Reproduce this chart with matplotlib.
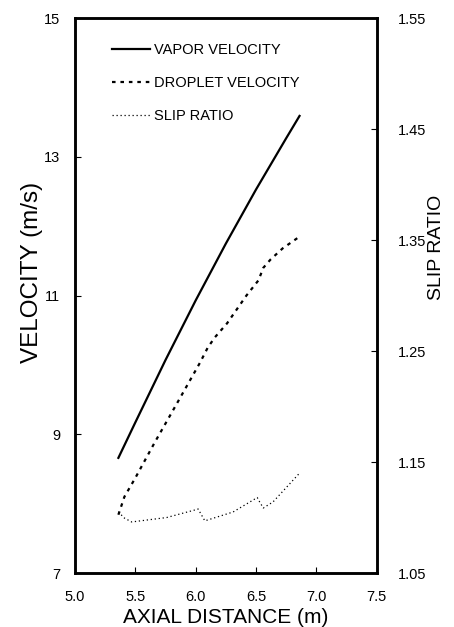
import numpy as np
import matplotlib.pyplot as plt

plt.rcParams['font.family'] = ['Liberation Sans', 'DejaVu Sans']

# Vapor velocity (m/s) vs axial distance (m)
vapor_x = [5.36, 5.50, 5.75, 6.00, 6.25, 6.50, 6.75, 6.86]
vapor_v = [8.66, 9.17, 10.07, 10.93, 11.75, 12.53, 13.27, 13.59]

# Droplet velocity (m/s)
drop_x = [5.36, 5.41, 5.50, 5.66, 5.84, 6.035, 6.10, 6.16, 6.26, 6.42, 6.52, 6.56, 6.62, 6.72, 6.86]
drop_v = [7.84, 8.10, 8.37, 8.88, 9.43, 10.03, 10.25, 10.40, 10.60, 11.00, 11.22, 11.40, 11.52, 11.68, 11.85]

# Slip ratio (right axis)
slip_x = [5.36, 5.41, 5.47, 5.76, 6.00, 6.02, 6.05, 6.076, 6.31, 6.51, 6.53, 6.56, 6.64, 6.86]
slip_r = [1.105, 1.0995, 1.096, 1.100, 1.107, 1.1077, 1.102, 1.097, 1.105, 1.118, 1.114, 1.1086, 1.114, 1.140]

x_ticks = [5.0, 5.5, 6.0, 6.5, 7.0, 7.5]
v_ticks = [7, 9, 11, 13, 15]
r_ticks = [1.05, 1.15, 1.25, 1.35, 1.45, 1.55]

fig = plt.figure(figsize=(4.54, 6.27), dpi=100)
ax = fig.add_axes([0.165, 0.0861, 0.665, 0.885])
ax2 = ax.twinx()

l1, = ax.plot(vapor_x, vapor_v, color='black', lw=1.6, label='VAPOR VELOCITY')
l2, = ax.plot(drop_x, drop_v, color='black', lw=1.6, linestyle=(0, (1.6, 2.2)),
              label='DROPLET VELOCITY')
l3, = ax2.plot(slip_x, slip_r, color='black', lw=0.9, linestyle=(0, (1, 2.2)),
               label='SLIP RATIO')

ax.set_xlim(5.0, 7.5)
ax.set_ylim(7, 15)
ax2.set_ylim(1.05, 1.55)
ax.set_xticks(x_ticks)
ax.set_xticklabels(['%.1f' % t for t in x_ticks])
ax.set_yticks(v_ticks)
ax2.set_yticks(r_ticks)
ax2.set_yticklabels(['%.2f' % t for t in r_ticks])

for a in (ax, ax2):
    for s in a.spines.values():
        s.set_linewidth(1.8)
ax.tick_params(axis='both', direction='in', length=4, width=0.8, labelsize=10.5)
ax.tick_params(axis='y', pad=10.5)
ax.tick_params(axis='x', pad=12)
ax2.tick_params(axis='y', direction='in', length=4, width=0.8, labelsize=10.5, pad=15)

ax.set_xlabel('AXIAL DISTANCE (m)', fontsize=15)
ax.xaxis.set_label_coords(0.5, -0.063)
ax.set_ylabel('VELOCITY (m/s)', fontsize=17.5)
ax.yaxis.set_label_coords(-0.105, 0.542)
ax2.set_ylabel('SLIP RATIO', fontsize=14)
ax2.yaxis.set_label_coords(1.17, 0.586)

ax.legend(handles=[l1, l2, l3], loc='upper left', bbox_to_anchor=(0.1225, 0.955),
          frameon=False, fontsize=10.5, borderpad=0, borderaxespad=0,
          handlelength=2.6, handletextpad=0.3, labelspacing=1.3)

fig.savefig('out.png', dpi=100)
